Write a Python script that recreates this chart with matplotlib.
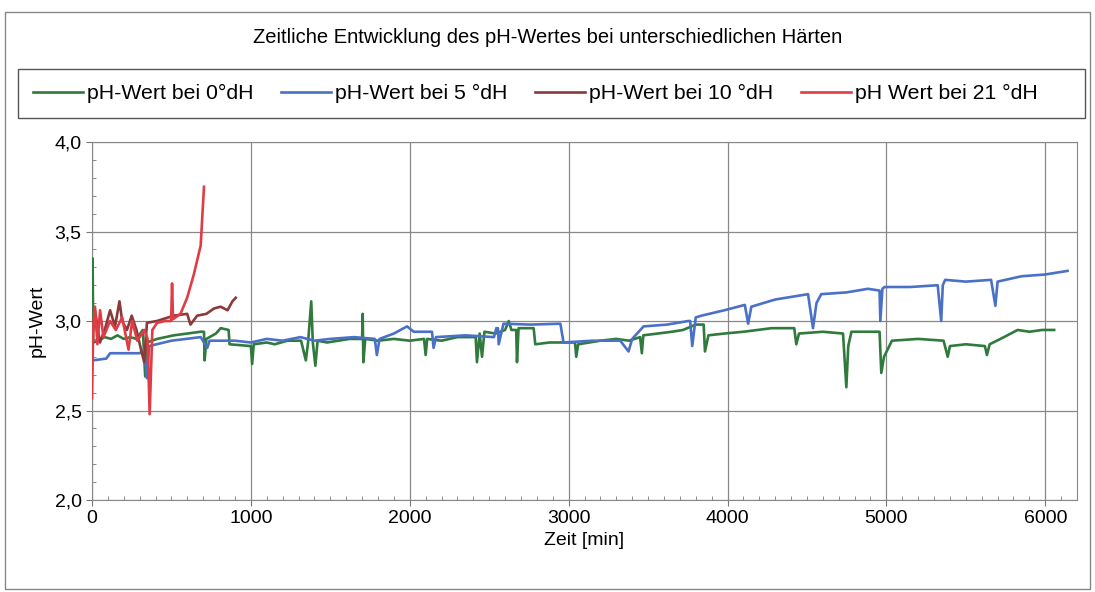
import matplotlib
matplotlib.use("Agg")
import matplotlib.pyplot as plt
from matplotlib.patches import Rectangle
from matplotlib.ticker import MultipleLocator, FuncFormatter

plt.rcParams['font.family'] = ['Liberation Sans', 'DejaVu Sans']

# pH-Wert bei 0 °dH
t_0 = [0, 4, 8, 40, 80, 120, 160, 200, 240, 280, 320, 335, 345, 410, 515, 600, 684, 705, 709, 720,
       780, 810, 860, 866, 1000, 1008, 1018, 1100, 1150, 1230, 1316, 1346, 1360, 1380, 1390, 1406,
       1420, 1480, 1550, 1620, 1700, 1704, 1708, 1720, 1800, 1900, 2000, 2090, 2100, 2110, 2200,
       2300, 2415, 2423, 2440, 2455, 2470, 2540, 2600, 2623, 2640, 2670, 2675, 2685, 2780, 2790,
       2880, 2990, 3040, 3048, 3060, 3130, 3200, 3300, 3380, 3450, 3461, 3470, 3560, 3650, 3720,
       3800, 3850, 3858, 3880, 3980, 4100, 4190, 4277, 4420, 4433, 4450, 4600, 4727, 4748, 4760,
       4780, 4957, 4968, 4985, 5035, 5200, 5360, 5386, 5400, 5500, 5620, 5633, 5650, 5740, 5826,
       5900, 5980, 6056]
ph_0 = [2.86, 3.35, 2.88, 2.89, 2.91, 2.90, 2.92, 2.90, 2.91, 2.90, 2.95, 2.69, 2.88, 2.90, 2.92,
        2.93, 2.94, 2.94, 2.78, 2.90, 2.93, 2.96, 2.95, 2.87, 2.86, 2.76, 2.87, 2.88, 2.87, 2.89,
        2.89, 2.78, 2.88, 3.11, 2.88, 2.75, 2.89, 2.88, 2.89, 2.90, 2.90, 3.04, 2.77, 2.90, 2.89,
        2.90, 2.89, 2.90, 2.81, 2.90, 2.89, 2.91, 2.91, 2.77, 2.93, 2.80, 2.94, 2.93, 2.95, 3.00,
        2.95, 2.95, 2.77, 2.96, 2.96, 2.87, 2.88, 2.88, 2.88, 2.80, 2.87, 2.88, 2.89, 2.90, 2.89,
        2.91, 2.82, 2.92, 2.93, 2.94, 2.95, 2.98, 2.98, 2.83, 2.92, 2.93, 2.94, 2.95, 2.96, 2.96,
        2.87, 2.93, 2.94, 2.93, 2.63, 2.86, 2.94, 2.94, 2.71, 2.80, 2.89, 2.90, 2.89, 2.80, 2.86,
        2.87, 2.86, 2.81, 2.87, 2.91, 2.95, 2.94, 2.95, 2.95]

# pH-Wert bei 5 °dH
t_5 = [5, 90, 114, 300, 330, 346, 360, 500, 684, 726, 740, 900, 1000, 1100, 1200, 1312, 1400, 1500,
       1650, 1780, 1793, 1810, 1900, 1983, 2025, 2140, 2150, 2165, 2350, 2530, 2545, 2555, 2560,
       2590, 2760, 2948, 2968, 3150, 3325, 3377, 3400, 3472, 3620, 3753, 3765, 3778, 3800, 3837,
       3980, 4109, 4130, 4150, 4300, 4507, 4538, 4560, 4590, 4750, 4884, 4957, 4962, 4975, 4988,
       5150, 5323, 5345, 5355, 5370, 5500, 5659, 5686, 5700, 5850, 6000, 6140]
ph_5 = [2.78, 2.79, 2.82, 2.82, 2.84, 2.68, 2.86, 2.89, 2.91, 2.85, 2.89, 2.89, 2.88, 2.90, 2.89,
        2.91, 2.89, 2.90, 2.91, 2.90, 2.81, 2.90, 2.93, 2.97, 2.94, 2.94, 2.85, 2.91, 2.92, 2.91,
        2.96, 2.96, 2.87, 2.985, 2.98, 2.985, 2.88, 2.89, 2.89, 2.83, 2.90, 2.97, 2.98, 3.00,
        3.00, 2.86, 3.02, 3.03, 3.06, 3.09, 2.985, 3.08, 3.12, 3.15, 2.96, 3.10, 3.15, 3.16, 3.18,
        3.17, 3.00, 3.18, 3.19, 3.19, 3.20, 3.00, 3.20, 3.23, 3.22, 3.23, 3.085, 3.22, 3.25, 3.26,
        3.28]

# pH-Wert bei 10 °dH
t_10 = [8, 19, 50, 80, 114, 145, 173, 190, 220, 250, 280, 314, 329, 346, 409, 515, 599, 620, 662,
        720, 768, 810, 853, 884, 905]
ph_10 = [2.95, 3.06, 2.88, 2.95, 3.06, 2.97, 3.11, 3.00, 2.95, 3.03, 2.95, 2.82, 2.77, 2.99, 3.00,
         3.03, 3.04, 2.98, 3.03, 3.04, 3.07, 3.08, 3.06, 3.11, 3.13]

# pH Wert bei 21 °dH
t_21 = [0, 8, 19, 34, 51, 72, 114, 150, 190, 230, 253, 285, 330, 350, 363, 380, 410, 460, 498, 504,
        510, 557, 599, 641, 673, 684, 705]
ph_21 = [2.57, 2.97, 3.08, 2.87, 3.06, 2.91, 3.00, 2.95, 3.02, 2.84, 3.00, 2.89, 2.95, 2.90, 2.48,
         2.95, 2.99, 3.00, 3.00, 3.21, 3.01, 3.04, 3.13, 3.26, 3.38, 3.42, 3.75]

fig = plt.figure(figsize=(10.95, 5.92), dpi=100)
ax = fig.add_axes([0.084, 0.1554, 0.8996, 0.6047])

ax.plot(t_0, ph_0, color='#2f7a3c', lw=1.9, label='pH-Wert bei 0°dH', zorder=3)
ax.plot(t_5, ph_5, color='#4a70c8', lw=1.9, label='pH-Wert bei 5 °dH', zorder=3)
ax.plot(t_10, ph_10, color='#8b3a3a', lw=1.9, label='pH-Wert bei 10 °dH', zorder=4)
ax.plot(t_21, ph_21, color='#e03c45', lw=1.9, label='pH Wert bei 21 °dH', zorder=5)

ax.set_xlim(0, 6200)
ax.set_ylim(2.0, 4.0)
ax.xaxis.set_major_locator(MultipleLocator(1000))
ax.xaxis.set_minor_locator(MultipleLocator(100))
ax.yaxis.set_major_locator(MultipleLocator(0.5))
ax.yaxis.set_minor_locator(MultipleLocator(0.1))
ax.yaxis.set_major_formatter(FuncFormatter(lambda v, p: f"{v:.1f}".replace('.', ',')))
ax.tick_params(which='major', direction='out', length=4, color='#777777', labelsize=14)
ax.tick_params(which='minor', direction='in', length=3, color='#777777')
ax.grid(True, which='major', color='#888888', lw=0.9)
for s in ax.spines.values():
    s.set_color('#888888')

ax.set_xlabel('Zeit [min]', fontsize=14, labelpad=3)
ax.set_ylabel('pH-Wert', fontsize=14, labelpad=6)

# outer chart frame, title and legend frame
fig.patches.append(Rectangle((0.005, 0.005), 0.99, 0.975, transform=fig.transFigure,
                             fill=False, edgecolor='#888888', lw=1))
fig.patches.append(Rectangle((0.016, 0.800), 0.975, 0.083, transform=fig.transFigure,
                             fill=False, edgecolor='#555555', lw=1))
fig.text(0.5, 0.937, 'Zeitliche Entwicklung des pH-Wertes bei unterschiedlichen Härten',
         ha='center', va='center', fontsize=14.5)

leg = fig.legend(loc='center', bbox_to_anchor=(0.489, 0.842), ncol=4, fontsize=15.3,
                 frameon=False, handlelength=2.35, handletextpad=0.2, columnspacing=1.3,
                 borderaxespad=0)

fig.savefig('out.png', dpi=100)
